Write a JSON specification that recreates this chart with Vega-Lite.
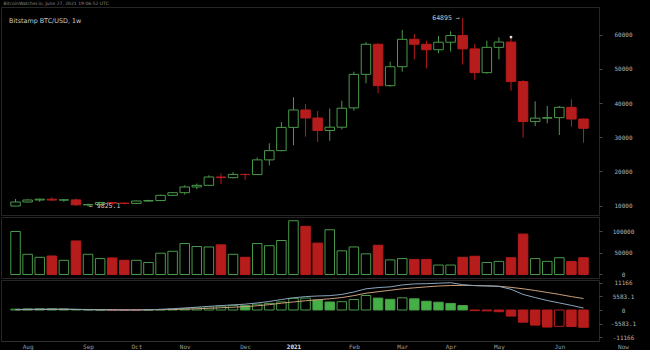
{
  "$schema": "https://vega.github.io/schema/vega-lite/v6.json",
  "background": "#000000",
  "padding": {"left": 0, "top": 0, "right": 15, "bottom": 0},
  "title": {"text": "BitcoinWatcher.io, June 27, 2021 19:06:52 UTC", "anchor": "start", "fontSize": 4.5, "color": "#8a8a8a", "font": "DejaVu Sans", "fontWeight": "normal", "offset": 1.5, "dx": 3},
  "spacing": 0,
  "resolve": {"scale": {"x": "independent", "y": "independent"}},
  "datasets": {
    "weeks": [
      {"date": "2020-07-27", "open": 9900, "high": 11950, "low": 9870, "close": 11080, "volume": 100000, "macd": 200, "signal": 100, "hist": 350},
      {"date": "2020-08-03", "open": 11080, "high": 11900, "low": 10950, "close": 11670, "volume": 47000, "macd": 280, "signal": 140, "hist": 450},
      {"date": "2020-08-10", "open": 11670, "high": 12080, "low": 11150, "close": 11900, "volume": 40000, "macd": 330, "signal": 180, "hist": 500},
      {"date": "2020-08-17", "open": 11900, "high": 12470, "low": 11380, "close": 11650, "volume": 43000, "macd": 360, "signal": 220, "hist": 480},
      {"date": "2020-08-24", "open": 11650, "high": 11800, "low": 11120, "close": 11700, "volume": 33000, "macd": 370, "signal": 250, "hist": 420},
      {"date": "2020-08-31", "open": 11700, "high": 12060, "low": 9920, "close": 10250, "volume": 78000, "macd": 250, "signal": 250, "hist": 250},
      {"date": "2020-09-07", "open": 10250, "high": 10600, "low": 9825.1, "close": 10330, "volume": 47000, "macd": 100, "signal": 220, "hist": 120},
      {"date": "2020-09-14", "open": 10330, "high": 11180, "low": 10220, "close": 10930, "volume": 37000, "macd": 30, "signal": 180, "hist": 40},
      {"date": "2020-09-21", "open": 10930, "high": 11000, "low": 10140, "close": 10740, "volume": 38500, "macd": -20, "signal": 140, "hist": -80},
      {"date": "2020-09-28", "open": 10740, "high": 10950, "low": 10370, "close": 10670, "volume": 33000, "macd": -60, "signal": 100, "hist": -160},
      {"date": "2020-10-05", "open": 10670, "high": 11500, "low": 10530, "close": 11370, "volume": 33000, "macd": -10, "signal": 80, "hist": -120},
      {"date": "2020-10-12", "open": 11370, "high": 11720, "low": 11200, "close": 11500, "volume": 28000, "macd": 80, "signal": 80, "hist": 30},
      {"date": "2020-10-19", "open": 11500, "high": 13230, "low": 11400, "close": 13030, "volume": 49500, "macd": 300, "signal": 120, "hist": 200},
      {"date": "2020-10-26", "open": 13030, "high": 14000, "low": 12870, "close": 13800, "volume": 54000, "macd": 520, "signal": 200, "hist": 350},
      {"date": "2020-11-02", "open": 13800, "high": 15970, "low": 13220, "close": 15480, "volume": 72000, "macd": 850, "signal": 330, "hist": 600},
      {"date": "2020-11-09", "open": 15480, "high": 16480, "low": 14800, "close": 15960, "volume": 65000, "macd": 1150, "signal": 500, "hist": 900},
      {"date": "2020-11-16", "open": 15960, "high": 18900, "low": 15800, "close": 18400, "volume": 64000, "macd": 1500, "signal": 700, "hist": 1300},
      {"date": "2020-11-23", "open": 18400, "high": 19450, "low": 16300, "close": 18200, "volume": 69000, "macd": 1800, "signal": 920, "hist": 1600},
      {"date": "2020-11-30", "open": 18200, "high": 19800, "low": 18000, "close": 19150, "volume": 47000, "macd": 2100, "signal": 1150, "hist": 1900},
      {"date": "2020-12-07", "open": 19150, "high": 19400, "low": 17600, "close": 19100, "volume": 40000, "macd": 2400, "signal": 1400, "hist": 1800},
      {"date": "2020-12-14", "open": 19100, "high": 24100, "low": 19000, "close": 23400, "volume": 72000, "macd": 2900, "signal": 1750, "hist": 2400},
      {"date": "2020-12-21", "open": 23400, "high": 28250, "low": 21800, "close": 26100, "volume": 67000, "macd": 3500, "signal": 2200, "hist": 2700},
      {"date": "2020-12-28", "open": 26100, "high": 34470, "low": 25900, "close": 32900, "volume": 79000, "macd": 4300, "signal": 2800, "hist": 3300},
      {"date": "2021-01-04", "open": 32900, "high": 41700, "low": 27660, "close": 38000, "volume": 125000, "macd": 5000, "signal": 3300, "hist": 4800},
      {"date": "2021-01-11", "open": 38000, "high": 39740, "low": 30170, "close": 35640, "volume": 112000, "macd": 5500, "signal": 3800, "hist": 4900},
      {"date": "2021-01-18", "open": 35640, "high": 37700, "low": 28630, "close": 32000, "volume": 73000, "macd": 5750, "signal": 4200, "hist": 4100},
      {"date": "2021-01-25", "open": 32000, "high": 38400, "low": 29000, "close": 32950, "volume": 104000, "macd": 5900, "signal": 4600, "hist": 3300},
      {"date": "2021-02-01", "open": 32950, "high": 40700, "low": 32300, "close": 38500, "volume": 55000, "macd": 6400, "signal": 5100, "hist": 3400},
      {"date": "2021-02-08", "open": 38600, "high": 49180, "low": 37780, "close": 48400, "volume": 64000, "macd": 7400, "signal": 5900, "hist": 4300},
      {"date": "2021-02-15", "open": 48400, "high": 57800, "low": 45800, "close": 57200, "volume": 48000, "macd": 8700, "signal": 6900, "hist": 5950},
      {"date": "2021-02-22", "open": 57200, "high": 57500, "low": 42900, "close": 45100, "volume": 68000, "macd": 9200, "signal": 7500, "hist": 4900},
      {"date": "2021-03-01", "open": 45100, "high": 52100, "low": 44800, "close": 50640, "volume": 34000, "macd": 9500, "signal": 8100, "hist": 4400},
      {"date": "2021-03-08", "open": 50640, "high": 61400, "low": 49200, "close": 58650, "volume": 37000, "macd": 10300, "signal": 8700, "hist": 5000},
      {"date": "2021-03-15", "open": 58650, "high": 60200, "low": 52800, "close": 57200, "volume": 35000, "macd": 10700, "signal": 9100, "hist": 4600},
      {"date": "2021-03-22", "open": 57200, "high": 58250, "low": 50150, "close": 55600, "volume": 35000, "macd": 10800, "signal": 9500, "hist": 3600},
      {"date": "2021-03-29", "open": 55600, "high": 59620, "low": 54550, "close": 57800, "volume": 22000, "macd": 11000, "signal": 9850, "hist": 3200},
      {"date": "2021-04-05", "open": 57800, "high": 61000, "low": 55100, "close": 59750, "volume": 22000, "macd": 11200, "signal": 10050, "hist": 2700},
      {"date": "2021-04-12", "open": 59750, "high": 64895, "low": 51300, "close": 55850, "volume": 40000, "macd": 10400, "signal": 10100, "hist": 1850},
      {"date": "2021-04-19", "open": 55850, "high": 57300, "low": 46800, "close": 48900, "volume": 42500, "macd": 10000, "signal": 10050, "hist": -250},
      {"date": "2021-04-26", "open": 48900, "high": 58250, "low": 48600, "close": 56300, "volume": 28000, "macd": 9900, "signal": 9900, "hist": -350},
      {"date": "2021-05-03", "open": 56300, "high": 59250, "low": 52800, "close": 57850, "volume": 30500, "macd": 9700, "signal": 9750, "hist": -700},
      {"date": "2021-05-10", "open": 57850, "high": 58950, "low": 43600, "close": 46300, "volume": 39000, "macd": 8500, "signal": 9300, "hist": -2500},
      {"date": "2021-05-17", "open": 46300, "high": 46700, "low": 29900, "close": 34600, "volume": 94000, "macd": 6400, "signal": 8700, "hist": -5000},
      {"date": "2021-05-24", "open": 34600, "high": 40500, "low": 33300, "close": 35600, "volume": 37000, "macd": 5100, "signal": 8000, "hist": -6200},
      {"date": "2021-05-31", "open": 35600, "high": 39150, "low": 34100, "close": 35750, "volume": 30500, "macd": 3900, "signal": 7200, "hist": -7000},
      {"date": "2021-06-07", "open": 35750, "high": 39150, "low": 30670, "close": 38770, "volume": 39000, "macd": 2900, "signal": 6400, "hist": -6700},
      {"date": "2021-06-14", "open": 38770, "high": 41110, "low": 33100, "close": 35350, "volume": 30000, "macd": 1900, "signal": 5500, "hist": -6800},
      {"date": "2021-06-21", "open": 35350, "high": 35500, "low": 28420, "close": 32630, "volume": 39000, "macd": 800, "signal": 4700, "hist": -7100}
    ],
    "notes": [
      {"date": "2021-04-12", "price": 64895, "label": "64895 →", "kind": "high"},
      {"date": "2020-09-07", "price": 9825.1, "label": "← 9825.1", "kind": "low"},
      {"date": "2021-05-10", "price": 59300, "label": "", "kind": "flag"}
    ]
  },
  "vconcat": [
    {
      "width": 598,
      "height": 208,
      "title": {"text": "Bitstamp BTC/USD, 1w", "anchor": "start", "fontSize": 6.4, "color": "#c8c8c8", "font": "DejaVu Sans", "fontWeight": "normal", "offset": -17, "dx": 8},
      "layer": [
        {
          "data": {"name": "weeks"},
          "mark": {"type": "rule", "strokeWidth": 1},
          "encoding": {
            "x": {"field": "date", "type": "temporal", "scale": {"type": "utc", "domain": [{"year": 2020, "month": 7, "date": 21, "hours": 11, "minutes": 25, "utc": true}, {"year": 2021, "month": 6, "date": 27, "hours": 1, "minutes": 49, "utc": true}]}, "axis": null},
            "y": {"field": "low", "type": "quantitative", "scale": {"domain": [7280, 68100], "nice": false, "zero": false},
              "axis": {"orient": "right", "values": [10000, 20000, 30000, 40000, 50000, 60000], "format": "d", "title": null, "grid": false, "domain": false, "ticks": true, "tickSize": 3, "tickColor": "#4a4a4a", "labelFont": "DejaVu Sans Mono", "labelFontSize": 6, "labelColor": "#b4b4b4", "labelAlign": "center", "labelPadding": 21, "labelOverlap": false}},
            "y2": {"field": "high"},
            "color": {"condition": {"test": "datum.close >= datum.open", "value": "#4a9a4a"}, "value": "#b71c1c"}
          }
        },
        {
          "data": {"name": "weeks"},
          "mark": {"type": "bar", "size": 9.5, "strokeWidth": 1, "fillOpacity": 1},
          "encoding": {
            "x": {"field": "date", "type": "temporal", "scale": {"type": "utc", "domain": [{"year": 2020, "month": 7, "date": 21, "hours": 11, "minutes": 25, "utc": true}, {"year": 2021, "month": 6, "date": 27, "hours": 1, "minutes": 49, "utc": true}]}, "axis": null},
            "y": {"field": "open", "type": "quantitative", "scale": {"domain": [7280, 68100], "nice": false, "zero": false}},
            "y2": {"field": "close"},
            "fill": {"condition": {"test": "datum.close >= datum.open", "value": "#000000"}, "value": "#b71c1c"},
            "stroke": {"condition": {"test": "datum.close >= datum.open", "value": "#4a9a4a"}, "value": "#b71c1c"}
          }
        },
        {
          "data": {"name": "notes"},
          "transform": [{"filter": "datum.kind == 'high'"}],
          "mark": {"type": "text", "align": "right", "baseline": "middle", "dx": -3, "font": "DejaVu Sans Mono", "fontSize": 6.5, "color": "#c8c8c8"},
          "encoding": {
            "x": {"field": "date", "type": "temporal", "scale": {"type": "utc", "domain": [{"year": 2020, "month": 7, "date": 21, "hours": 11, "minutes": 25, "utc": true}, {"year": 2021, "month": 6, "date": 27, "hours": 1, "minutes": 49, "utc": true}]}, "axis": null},
            "y": {"field": "price", "type": "quantitative", "scale": {"domain": [7280, 68100], "nice": false, "zero": false}},
            "text": {"field": "label"}
          }
        },
        {
          "data": {"name": "notes"},
          "transform": [{"filter": "datum.kind == 'low'"}],
          "mark": {"type": "text", "align": "left", "baseline": "middle", "dx": 1, "font": "DejaVu Sans Mono", "fontSize": 6.5, "color": "#c8c8c8"},
          "encoding": {
            "x": {"field": "date", "type": "temporal", "scale": {"type": "utc", "domain": [{"year": 2020, "month": 7, "date": 21, "hours": 11, "minutes": 25, "utc": true}, {"year": 2021, "month": 6, "date": 27, "hours": 1, "minutes": 49, "utc": true}]}, "axis": null},
            "y": {"field": "price", "type": "quantitative", "scale": {"domain": [7280, 68100], "nice": false, "zero": false}},
            "text": {"field": "label"}
          }
        },
        {
          "data": {"name": "notes"},
          "transform": [{"filter": "datum.kind == 'flag'"}],
          "mark": {"type": "square", "size": 6, "filled": true, "color": "#e0e0e0", "opacity": 1},
          "encoding": {
            "x": {"field": "date", "type": "temporal", "scale": {"type": "utc", "domain": [{"year": 2020, "month": 7, "date": 21, "hours": 11, "minutes": 25, "utc": true}, {"year": 2021, "month": 6, "date": 27, "hours": 1, "minutes": 49, "utc": true}]}, "axis": null},
            "y": {"field": "price", "type": "quantitative", "scale": {"domain": [7280, 68100], "nice": false, "zero": false}}
          }
        }
      ]
    },
    {
      "width": 598,
      "height": 61,
      "data": {"name": "weeks"},
      "mark": {"type": "bar", "size": 9.5, "strokeWidth": 1, "fillOpacity": 1},
      "encoding": {
        "x": {"field": "date", "type": "temporal", "scale": {"type": "utc", "domain": [{"year": 2020, "month": 7, "date": 21, "hours": 11, "minutes": 25, "utc": true}, {"year": 2021, "month": 6, "date": 27, "hours": 1, "minutes": 49, "utc": true}]}, "axis": null},
        "y": {"field": "volume", "type": "quantitative", "scale": {"domain": [-8140, 133700], "nice": false, "zero": false},
          "axis": {"orient": "right", "values": [0, 50000, 100000], "format": "d", "title": null, "grid": false, "domain": false, "ticks": true, "tickSize": 3, "tickColor": "#4a4a4a", "labelFont": "DejaVu Sans Mono", "labelFontSize": 6, "labelColor": "#b4b4b4", "labelAlign": "center", "labelPadding": 21, "labelOverlap": false}},
        "y2": {"datum": 0},
        "fill": {"condition": {"test": "datum.close >= datum.open", "value": "#000000"}, "value": "#b71c1c"},
        "stroke": {"condition": {"test": "datum.close >= datum.open", "value": "#4a9a4a"}, "value": "#b71c1c"}
      }
    },
    {
      "width": 598,
      "height": 61,
      "layer": [
        {
          "data": {"name": "weeks"},
          "transform": [{"window": [{"op": "lag", "field": "hist", "as": "prev"}], "sort": [{"field": "date"}]}],
          "mark": {"type": "bar", "size": 9.5, "strokeWidth": 1, "fillOpacity": 1},
          "encoding": {
            "x": {"field": "date", "type": "temporal", "scale": {"type": "utc", "domain": [{"year": 2020, "month": 7, "date": 21, "hours": 11, "minutes": 25, "utc": true}, {"year": 2021, "month": 6, "date": 27, "hours": 1, "minutes": 49, "utc": true}]},
              "axis": {"values": [{"year": 2020, "month": 8, "date": 3, "utc": true}, {"year": 2020, "month": 9, "date": 7, "utc": true}, {"year": 2020, "month": 10, "date": 5, "utc": true}, {"year": 2020, "month": 11, "date": 2, "utc": true}, {"year": 2020, "month": 12, "date": 7, "utc": true}, {"year": 2021, "month": 1, "date": 4, "utc": true}, {"year": 2021, "month": 2, "date": 8, "utc": true}, {"year": 2021, "month": 3, "date": 8, "utc": true}, {"year": 2021, "month": 4, "date": 5, "utc": true}, {"year": 2021, "month": 5, "date": 3, "utc": true}, {"year": 2021, "month": 6, "date": 7, "utc": true}],
                "labelExpr": "utcmonth(datum.value) == 0 ? utcFormat(datum.value, '%Y') : utcFormat(datum.value, '%b')",
                "title": null, "grid": false, "ticks": false, "domain": true, "domainColor": "#2e2e2e", "labelFont": "DejaVu Sans Mono", "labelFontSize": 6, "labelPadding": 2, "labelOverlap": false, "labelFlush": false,
                "labelColor": {"condition": {"test": "utcmonth(datum.value) == 0", "value": "#e0e0e0"}, "value": "#9a9a9a"},
                "labelFontWeight": {"condition": {"test": "utcmonth(datum.value) == 0", "value": "bold"}, "value": "normal"}}},
            "y": {"field": "hist", "type": "quantitative", "scale": {"domain": [-12726, 12316], "nice": false, "zero": false},
              "axis": {"orient": "right", "values": [-11166, -5583.1, 0, 5583.1, 11166], "labelExpr": "'' + datum.value", "title": "Now", "titleAngle": 0, "titleX": 24, "titleY": 66, "titleAlign": "center", "titleBaseline": "middle", "titleFont": "DejaVu Sans Mono", "titleFontSize": 6, "titleFontWeight": "normal", "titleColor": "#9a9a9a", "grid": false, "domain": false, "ticks": true, "tickSize": 3, "tickColor": "#4a4a4a", "labelFont": "DejaVu Sans Mono", "labelFontSize": 6, "labelColor": "#b4b4b4", "labelAlign": "center", "labelPadding": 21, "labelOverlap": false, "labelBound": false, "labelFlush": false}},
            "y2": {"datum": 0},
            "fill": {"condition": [{"test": "datum.hist >= 0 && datum.prev != null && datum.hist < datum.prev", "value": "#45b045"}, {"test": "datum.hist < 0 && datum.prev != null && datum.hist < datum.prev", "value": "#b71c1c"}], "value": "#000000"},
            "stroke": {"condition": {"test": "datum.hist >= 0", "value": "#4a9a4a"}, "value": "#b71c1c"}
          }
        },
        {
          "data": {"name": "weeks"},
          "mark": {"type": "line", "strokeWidth": 1, "color": "#c8a07a"},
          "encoding": {
            "x": {"field": "date", "type": "temporal", "scale": {"type": "utc", "domain": [{"year": 2020, "month": 7, "date": 21, "hours": 11, "minutes": 25, "utc": true}, {"year": 2021, "month": 6, "date": 27, "hours": 1, "minutes": 49, "utc": true}]}},
            "y": {"field": "signal", "type": "quantitative", "scale": {"domain": [-12726, 12316], "nice": false, "zero": false},
              "axis": {"orient": "right", "values": [-11166, -5583.1, 0, 5583.1, 11166], "labelExpr": "'' + datum.value", "title": "Now", "titleAngle": 0, "titleX": 24, "titleY": 66, "titleAlign": "center", "titleBaseline": "middle", "titleFont": "DejaVu Sans Mono", "titleFontSize": 6, "titleFontWeight": "normal", "titleColor": "#9a9a9a", "grid": false, "domain": false, "ticks": true, "tickSize": 3, "tickColor": "#4a4a4a", "labelFont": "DejaVu Sans Mono", "labelFontSize": 6, "labelColor": "#b4b4b4", "labelAlign": "center", "labelPadding": 21, "labelOverlap": false, "labelBound": false, "labelFlush": false}}
          }
        },
        {
          "data": {"name": "weeks"},
          "mark": {"type": "line", "strokeWidth": 1, "color": "#8aa4bc"},
          "encoding": {
            "x": {"field": "date", "type": "temporal", "scale": {"type": "utc", "domain": [{"year": 2020, "month": 7, "date": 21, "hours": 11, "minutes": 25, "utc": true}, {"year": 2021, "month": 6, "date": 27, "hours": 1, "minutes": 49, "utc": true}]}},
            "y": {"field": "macd", "type": "quantitative", "scale": {"domain": [-12726, 12316], "nice": false, "zero": false},
              "axis": {"orient": "right", "values": [-11166, -5583.1, 0, 5583.1, 11166], "labelExpr": "'' + datum.value", "title": "Now", "titleAngle": 0, "titleX": 24, "titleY": 66, "titleAlign": "center", "titleBaseline": "middle", "titleFont": "DejaVu Sans Mono", "titleFontSize": 6, "titleFontWeight": "normal", "titleColor": "#9a9a9a", "grid": false, "domain": false, "ticks": true, "tickSize": 3, "tickColor": "#4a4a4a", "labelFont": "DejaVu Sans Mono", "labelFontSize": 6, "labelColor": "#b4b4b4", "labelAlign": "center", "labelPadding": 21, "labelOverlap": false, "labelBound": false, "labelFlush": false}}
          }
        }
      ]
    }
  ],
  "config": {
    "view": {"stroke": "#262626"},
    "axis": {"grid": false, "labelOverlap": false},
    "concat": {"spacing": 0}
  }
}
